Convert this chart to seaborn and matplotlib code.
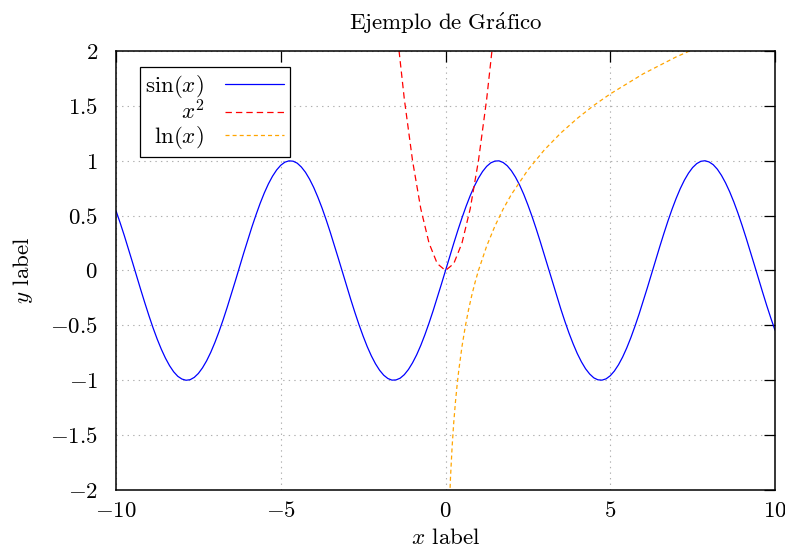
import matplotlib
matplotlib.use("Agg")
import matplotlib.pyplot as plt
import seaborn as sns

# ---- data ----
x_sin = [-10.0 + 0.125 * i for i in range(161)]
sin_pos = [0.000, 0.125, 0.247, 0.366, 0.479, 0.585, 0.682, 0.768, 0.841, 0.902,
           0.949, 0.981, 0.997, 0.999, 0.984, 0.954, 0.909, 0.850, 0.778, 0.694,
           0.598, 0.494, 0.382, 0.264, 0.141, 0.017, -0.108, -0.231, -0.351, -0.465,
           -0.572, -0.669, -0.757, -0.832, -0.895, -0.943, -0.978, -0.996, -0.999, -0.987,
           -0.959, -0.916, -0.859, -0.789, -0.706, -0.612, -0.508, -0.397, -0.279, -0.158,
           -0.033, 0.092, 0.215, 0.335, 0.450, 0.558, 0.657, 0.746, 0.823, 0.887,
           0.938, 0.974, 0.995, 1.000, 0.989, 0.964, 0.923, 0.867, 0.798, 0.717,
           0.625, 0.523, 0.412, 0.295, 0.174, 0.050, -0.075, -0.199, -0.320, -0.435,
           -0.544]
y_sin = [-v for v in sin_pos[:0:-1]] + sin_pos

x_sq = [-2.5, -2.25, -2.0, -1.75, -1.5, -1.25, -1.0, -0.75, -0.5, -0.25, 0.0,
        0.25, 0.5, 0.75, 1.0, 1.25, 1.5, 1.75, 2.0, 2.25, 2.5]
y_sq = [6.25, 5.0625, 4.0, 3.0625, 2.25, 1.5625, 1.0, 0.5625, 0.25, 0.0625, 0.0,
        0.0625, 0.25, 0.5625, 1.0, 1.5625, 2.25, 3.0625, 4.0, 5.0625, 6.25]

x_ln = [0.1, 0.15, 0.2, 0.25, 0.3, 0.35, 0.4, 0.5, 0.6, 0.7, 0.8, 0.9, 1.0,
        1.25, 1.5, 1.75, 2.0, 2.5, 3.0, 3.5, 4.0, 4.5, 5.0, 6.0, 7.0, 8.0, 9.0, 10.0]
y_ln = [-2.303, -1.897, -1.609, -1.386, -1.204, -1.050, -0.916, -0.693, -0.511,
        -0.357, -0.223, -0.105, 0.0, 0.223, 0.405, 0.560, 0.693, 0.916, 1.099,
        1.253, 1.386, 1.504, 1.609, 1.792, 1.946, 2.079, 2.197, 2.303]

labels = [r"$\sin(x)$", r"$x^2$", r"$\ln(x)$"]
x_ticks = [-10, -5, 0, 5, 10]
y_ticks = [-2, -1.5, -1, -0.5, 0, 0.5, 1, 1.5, 2]
title = r"$\mathrm{Ejemplo\ de\ Gr\acute{a}fico}$"

# ---- style ----
sns.set_theme(style="white")
FS = 16.5
plt.rcParams.update({
    "font.family": ["cmr10", "DejaVu Serif"],
    "mathtext.fontset": "cm",
    "axes.formatter.use_mathtext": True,
    "axes.unicode_minus": True,
    "font.size": FS,
    "lines.scale_dashes": False,
    "text.color": "black",
    "axes.labelcolor": "black",
    "xtick.color": "black",
    "ytick.color": "black",
})

fig = plt.figure(figsize=(7.85, 5.48), dpi=100)
ax = fig.add_axes([116 / 785, 1 - 490 / 548, 659 / 785, 439 / 548])

sns.lineplot(x=x_sin, y=y_sin, ax=ax, color="#0000ff", linewidth=0.9,
             label=labels[0], sort=False, estimator=None)
sns.lineplot(x=x_sq, y=y_sq, ax=ax, color="#ff0000", linewidth=0.9,
             label=labels[1], sort=False, estimator=None,
             linestyle=(0, (4.6, 2.9)))
sns.lineplot(x=x_ln, y=y_ln, ax=ax, color="#ffa500", linewidth=0.9,
             label=labels[2], sort=False, estimator=None,
             linestyle=(0, (2.9, 2.2)))

ax.set_xlim(-10, 10)
ax.set_ylim(-2, 2)
ax.set_xticks(x_ticks)
ax.set_yticks(y_ticks)
ax.set_xticklabels([f"${t}$" for t in x_ticks])
ax.set_yticklabels([f"${t:g}$" for t in y_ticks])
ax.tick_params(direction="in", length=8, width=0.9, top=True, right=True,
               labelsize=FS, colors="black")
ax.tick_params(axis="x", pad=8)
ax.tick_params(axis="y", pad=13)
for s in ax.spines.values():
    s.set_color("black")
    s.set_linewidth(1.1)
ax.grid(True, linestyle=(0, (1, 3)), color="#b0b0b0", linewidth=0.8)
ax.set_axisbelow(True)

ax.set_xlabel(r"$x$ label", fontsize=FS, labelpad=5, color="black")
ax.set_ylabel(r"$y$ label", fontsize=FS, labelpad=11, color="black")
ax.set_title(title, fontsize=FS, pad=15, color="black")

leg = ax.legend(loc="upper left", bbox_to_anchor=(0.036, 0.964), borderaxespad=0,
                markerfirst=False, fancybox=False, shadow=False, framealpha=1,
                edgecolor="black", fontsize=FS, handlelength=2.6,
                handletextpad=0.9, labelspacing=0.0, borderpad=0.25)
leg.get_frame().set_linewidth(0.9)
for t in leg.get_texts():
    t.set_color("black")

fig.savefig("out.png", dpi=100)
